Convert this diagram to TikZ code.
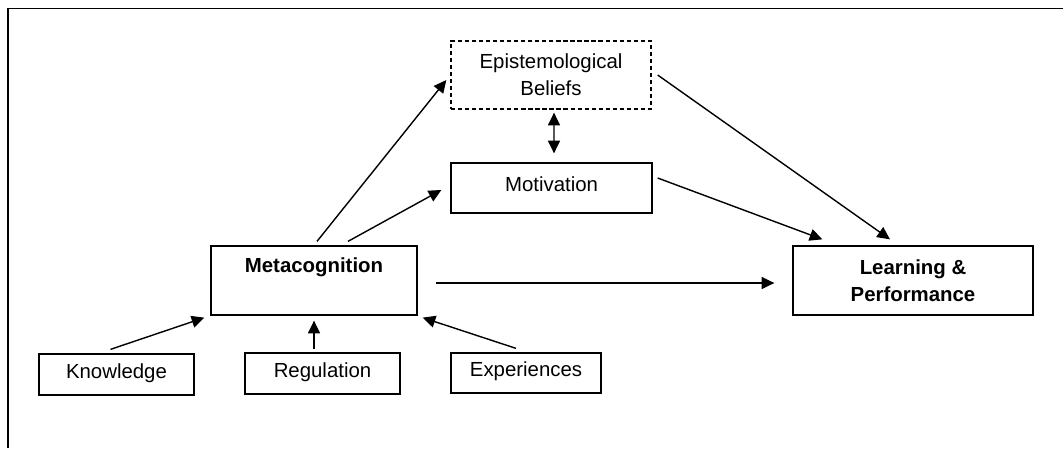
\documentclass[tikz,border=0pt]{standalone}
\usepackage{fontspec}
\setmainfont{Liberation Sans}
\usetikzlibrary{arrows.meta}

\tikzset{
  frame/.style={draw, line width=0.9pt, inner sep=0pt, align=center,
    font=\fontsize{14.5}{19}\selectfont},
  box/.style={frame, text height=0.75em, text depth=0.25em},
  dashbox/.style={frame, dash pattern=on 3pt off 2pt},
  bold/.style={font=\fontsize{14.5}{19}\selectfont\bfseries},
  arr/.style={line width=1pt, -{Triangle[length=9pt,width=8.5pt]}},
  dbl/.style={line width=1pt, {Triangle[length=9pt,width=8.5pt]}-{Triangle[length=9pt,width=8.5pt]}}
}

\begin{document}
\begin{tikzpicture}[x=0.025cm, y=-0.025cm]
\useasboundingbox (0,0) rectangle (1063,448);

% frame
\draw [line width=1.4pt] (8,448) -- (8,8.5) -- (1063,8.5);

% boxes
\node [dashbox, minimum width=5cm, minimum height=1.7cm] (epi) at (551,75) {Epistemological\\Beliefs};
\node [box, minimum width=5.025cm, minimum height=1.25cm] (motiv) at (551.5,188) {Motivation};
\node [box, minimum width=5.15cm, minimum height=1.725cm,
  label={[bold, anchor=base, yshift=-0.675cm]north:Metacognition}] (meta) at (314,280.5) {};
\node [frame, bold, minimum width=6cm, minimum height=1.725cm] (lp) at (913,280.5) {Learning \&\\Performance};
\node [box, minimum width=3.875cm, minimum height=1.025cm] (know) at (116.5,374.5) {Knowledge};
\node [box, minimum width=3.875cm, minimum height=1.025cm] (reg) at (322.5,373.5) {Regulation};
\node [box, minimum width=3.75cm, minimum height=1cm] (exp) at (526,373) {Experiences};

% arrows
\draw [arr] ([shift={(-6,-4)}]know.north) -- ([shift={(-6,2)}]meta.south west);
\draw [arr] ([shift={(-8.5,-3)}]reg.north) -- ([shift={(0,5)}]meta.south);
\draw [arr] ([shift={(-10,-4)}]exp.north) -- ([shift={(5,2)}]meta.south east);
\draw [arr] ([shift={(3,-4)}]meta.north) -- ([shift={(-4,5)}]epi.west);
\draw [arr] ([shift={(34,-4)}]meta.north) -- ([shift={(-9,2)}]motiv.west);
\draw [arr] ([shift={(18,2.5)}]meta.east) -- ([shift={(-18,2.5)}]lp.west);
\draw [dbl] ([shift={(3,3)}]epi.south) -- ([shift={(2.5,-9)}]motiv.north);
\draw [arr] ([shift={(5,-10)}]motiv.east) -- ([shift={(30,-6)}]lp.north west);
\draw [arr] ([shift={(6,0)}]epi.east) -- ([shift={(-23,-6)}]lp.north);
\end{tikzpicture}
\end{document}
